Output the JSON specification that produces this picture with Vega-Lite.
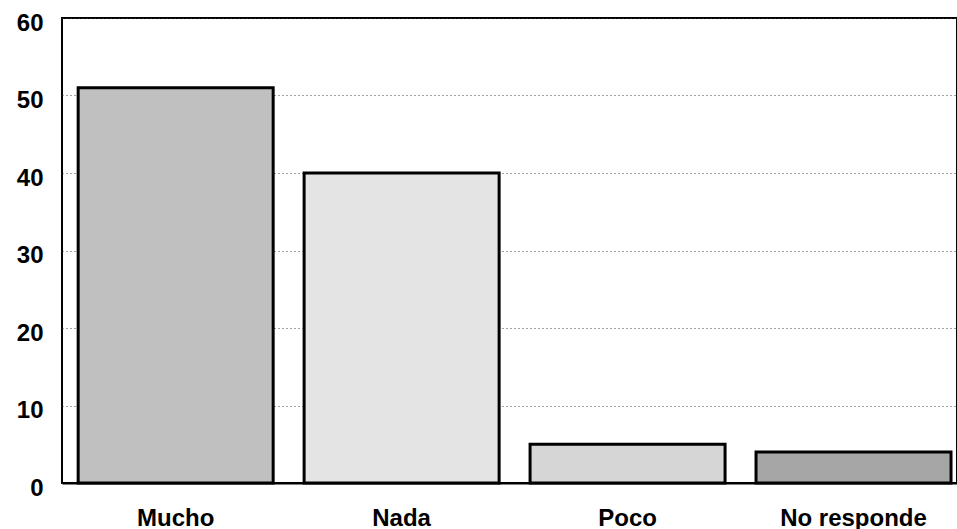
{
  "$schema": "https://vega.github.io/schema/vega-lite/v6.json",
  "autosize": "none",
  "padding": {"left": 62, "top": 18, "right": 0, "bottom": 46},
  "width": 895,
  "height": 465,
  "background": "white",
  "config": {
    "view": {"stroke": "black", "strokeWidth": 2},
    "font": "Liberation Sans"
  },
  "data": {
    "values": [
      {"categoria": "Mucho", "valor": 51, "tono": "Mucho"},
      {"categoria": "Nada", "valor": 40, "tono": "Nada"},
      {"categoria": "Poco", "valor": 5, "tono": "Poco"},
      {"categoria": "No responde", "valor": 4, "tono": "No responde"}
    ]
  },
  "mark": {"type": "bar", "stroke": "black", "strokeWidth": 3},
  "encoding": {
    "x": {
      "field": "categoria",
      "type": "nominal",
      "sort": null,
      "scale": {"paddingInner": 0.137, "paddingOuter": 0.049, "align": 0.73},
      "axis": {
        "title": null,
        "labelAngle": 0,
        "labelFont": "Liberation Sans",
        "labelFontWeight": "bold",
        "labelFontSize": 24,
        "labelColor": "black",
        "labelPadding": 23,
        "ticks": false,
        "domainColor": "black",
        "domainWidth": 2
      }
    },
    "y": {
      "field": "valor",
      "type": "quantitative",
      "scale": {"domain": [0, 60], "nice": false},
      "axis": {
        "title": null,
        "values": [0, 10, 20, 30, 40, 50, 60],
        "labelFont": "Liberation Sans",
        "labelFontWeight": "bold",
        "labelFontSize": 24,
        "labelColor": "black",
        "labelPadding": 19,
        "labelOffset": 5,
        "ticks": false,
        "domain": false,
        "grid": true,
        "gridColor": "#444",
        "gridDash": [1, 3],
        "gridWidth": 1
      }
    },
    "fill": {
      "field": "tono",
      "type": "nominal",
      "legend": null,
      "scale": {
        "domain": ["Mucho", "Nada", "Poco", "No responde"],
        "range": ["#c0c0c0", "#e4e4e4", "#d6d6d6", "#a6a6a6"]
      }
    }
  }
}
